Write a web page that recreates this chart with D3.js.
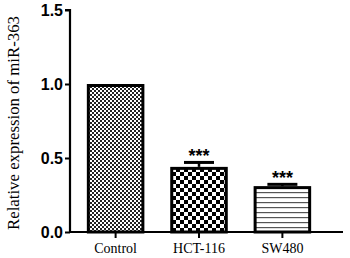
<!DOCTYPE html>
<html><head><meta charset="utf-8">
<script src="https://cdn.jsdelivr.net/npm/d3@7"></script>
<style>body{margin:0;background:#fff}svg{display:block}</style>
</head><body>
<script>
const categories = ["Control", "HCT-116", "SW480"];
const values = [1.0, 0.44, 0.31];
const errors = [0, 0.03, 0.012];
const stars = ["", "***", "***"];
const yTicks = [0.0, 0.5, 1.0, 1.5];
const patterns = ["fine", "coarse", "lines"];

const W = 350, H = 258;
const svg = d3.select("body").append("svg").attr("width", W).attr("height", H);
const defs = svg.append("defs");

// fine checkerboard
let p = defs.append("pattern").attr("id","fine").attr("patternUnits","userSpaceOnUse").attr("width",4).attr("height",4);
p.append("rect").attr("width",4).attr("height",4).attr("fill","#fff");
p.append("rect").attr("width",2).attr("height",2).attr("fill","#222");
p.append("rect").attr("x",2).attr("y",2).attr("width",2).attr("height",2).attr("fill","#222");
// coarse checkerboard
p = defs.append("pattern").attr("id","coarse").attr("patternUnits","userSpaceOnUse").attr("width",8).attr("height",8);
p.append("rect").attr("width",8).attr("height",8).attr("fill","#fff");
p.append("rect").attr("width",4).attr("height",4).attr("fill","#000");
p.append("rect").attr("x",4).attr("y",4).attr("width",4).attr("height",4).attr("fill","#000");
// horizontal lines
p = defs.append("pattern").attr("id","lines").attr("patternUnits","userSpaceOnUse").attr("width",4).attr("height",5);
p.append("rect").attr("width",4).attr("height",5).attr("fill","#fff");
p.append("rect").attr("y",2).attr("width",4).attr("height",1.2).attr("fill","#555");

const x0 = 70, y0 = 232;
const y = d3.scaleLinear().domain([0,1.5]).range([y0, 10]);
const x = d3.scaleBand().domain(categories).range([66, 332]).paddingInner(0.31).paddingOuter(0.25);

// bars
const g = svg.append("g");
categories.forEach((c,i)=>{
  const bx = x(c), bw = x.bandwidth();
  g.append("rect").attr("x",bx+1.5).attr("y",y(values[i])+1.5)
    .attr("width",bw-3).attr("height",y0-y(values[i])-1.5)
    .attr("fill",`url(#${patterns[i]})`).attr("stroke","#000").attr("stroke-width",3);
  if (errors[i]>0) {
    const cx = bx+bw/2, ty = y(values[i]+errors[i]);
    g.append("line").attr("x1",cx).attr("x2",cx).attr("y1",y(values[i])).attr("y2",ty).attr("stroke","#000").attr("stroke-width",2.5);
    g.append("line").attr("x1",cx-15).attr("x2",cx+15).attr("y1",ty).attr("y2",ty).attr("stroke","#000").attr("stroke-width",3);
  }
  if (stars[i]) {
    g.append("text").attr("x",bx+bw/2).attr("y",y(values[i]+errors[i]))
      .attr("text-anchor","middle").attr("font-family","Liberation Sans, Arial, sans-serif")
      .attr("font-weight","bold").attr("font-size",18).attr("fill","#000").text(stars[i]);
  }
});

// y axis
const ya = svg.append("g").attr("transform",`translate(${x0},0)`)
  .call(d3.axisLeft(y).tickValues(yTicks).tickFormat(d3.format(".1f")).tickSize(5).tickPadding(2));
ya.select(".domain").attr("stroke","#000").attr("stroke-width",2.2).attr("d",`M-5,${y(1.5)}H0V${y0}`);
ya.selectAll(".tick line").attr("stroke","#000").attr("stroke-width",2);
ya.selectAll(".tick text").attr("font-family","Liberation Sans, Arial, sans-serif").attr("font-weight","bold")
  .attr("font-size",16).attr("fill","#000");

// x axis
const xa = svg.append("g").attr("transform",`translate(0,${y0})`)
  .call(d3.axisBottom(x).tickSize(6).tickPadding(5));
xa.select(".domain").attr("stroke","#000").attr("stroke-width",2).attr("d",`M${x0},0H343`);
xa.selectAll(".tick line").attr("stroke","#000").attr("stroke-width",2);
xa.selectAll(".tick text").attr("font-family","Liberation Serif, 'Times New Roman', serif")
  .attr("font-size",14).attr("fill","#000");

// y title
svg.append("text").attr("transform",`translate(19,${(10+y0)/2+2}) rotate(-90)`)
  .attr("text-anchor","middle").attr("font-family","Liberation Serif, 'Times New Roman', serif")
  .attr("font-size",16.8).attr("fill","#000").text("Relative expression of miR-363");
</script>
</body></html>
